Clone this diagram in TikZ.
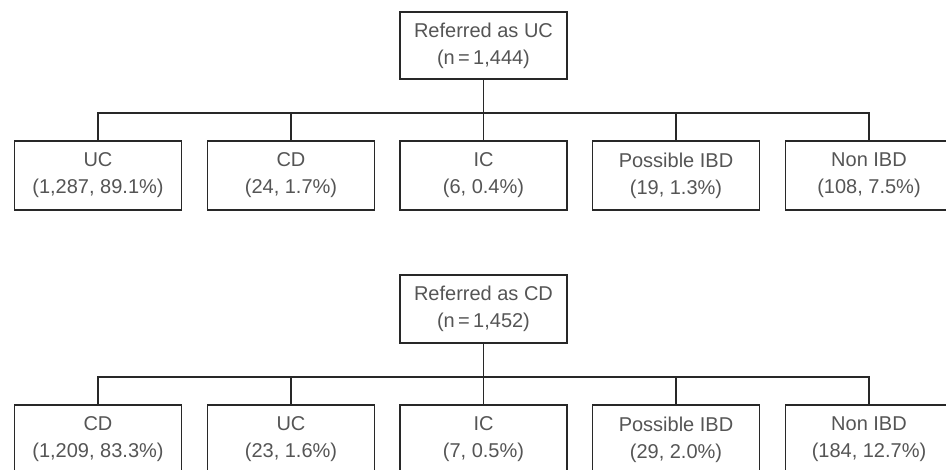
\documentclass[tikz,border=0pt]{standalone}
\usepackage{fontspec}
\setmainfont{Liberation Sans}
\definecolor{boxline}{RGB}{40, 40, 40}
\definecolor{boxtext}{RGB}{85, 85, 85}
\usetikzlibrary{positioning,calc}

\tikzset{
    catbox/.style={draw=boxline, line width=1.2pt, fill=white, text=boxtext,
        minimum width=167pt, minimum height=69pt, align=center,
        font=\fontsize{20}{27}\selectfont},
    link/.style={draw=boxline, line width=1.2pt}
}

\begin{document}
\begin{tikzpicture}[x=1pt,y=1pt]
    \useasboundingbox (0,0) rectangle (946,470);

    % referred as UC
    \node[catbox, minimum height=67pt] (rootA) at (483.5,424.5) {Referred as UC\\(n\,=\,1,444)};
    \coordinate (barA) at (483.5,357);
    \node[catbox] (a1) at (98,294.5) {UC\\(1,287, 89.1\%)};
    \node[catbox] (a2) at (291,294.5) {CD\\(24, 1.7\%)};
    \node[catbox] (a3) at (483.5,294.5) {IC\\(6, 0.4\%)};
    \node[catbox] (a4) at (676,294.5) {Possible IBD\\(19, 1.3\%)};
    \node[catbox] (a5) at (869,294.5) {Non IBD\\(108, 7.5\%)};
    \draw[link] (rootA.south) -- (barA);
    \foreach \c in {a1,a2,a3,a4,a5}
        \draw[link] (barA) -| (\c.north);

    % referred as CD
    \node[catbox, minimum height=68pt] (rootB) at (483.5,161) {Referred as CD\\(n\,=\,1,452)};
    \coordinate (barB) at (483.5,93);
    \node[catbox] (b1) at (98,30.5) {CD\\(1,209, 83.3\%)};
    \node[catbox] (b2) at (291,30.5) {UC\\(23, 1.6\%)};
    \node[catbox] (b3) at (483.5,30.5) {IC\\(7, 0.5\%)};
    \node[catbox] (b4) at (676,30.5) {Possible IBD\\(29, 2.0\%)};
    \node[catbox] (b5) at (869,30.5) {Non IBD\\(184, 12.7\%)};
    \draw[link] (rootB.south) -- (barB);
    \foreach \c in {b1,b2,b3,b4,b5}
        \draw[link] (barB) -| (\c.north);
\end{tikzpicture}
\end{document}
